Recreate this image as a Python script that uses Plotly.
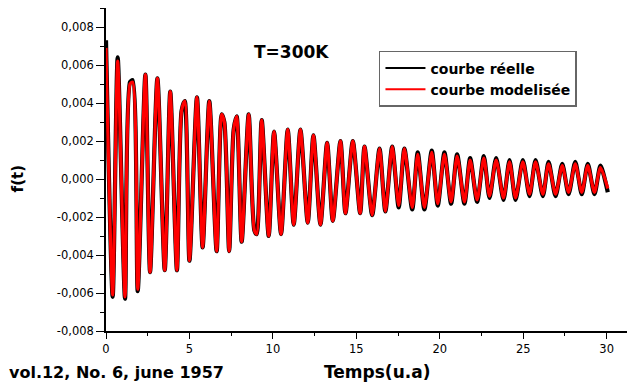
import plotly.graph_objects as go

# Extrema of the oscillation (time in u.a)
t_points = [0.00, 0.40, 0.70, 1.14, 1.44, 1.60, 1.90, 2.36, 2.64, 3.08, 3.52, 3.85, 4.25, 4.53, 4.72,
            5.00, 5.45, 5.79, 6.19, 6.63, 6.93, 7.09, 7.38, 7.65, 7.83, 8.13, 8.55, 8.89, 9.03, 9.33,
            9.75, 10.07, 10.49, 10.89, 11.25, 11.65, 12.09, 12.43, 12.85, 13.25, 13.59, 14.05, 14.35,
            14.79, 15.23, 15.49, 15.95, 16.39, 16.74, 17.15, 17.54, 17.88, 18.35, 18.68, 19.08, 19.52,
            19.88, 20.28, 20.68, 21.04, 21.48, 21.82, 22.24, 22.64, 22.98, 23.38, 23.82, 24.18, 24.54,
            24.98, 25.38, 25.74, 26.18, 26.52, 26.94, 27.34, 27.72, 28.12, 28.51, 28.87, 29.27, 29.63,
            30.07]

f_modelisee = [0.0069, -0.0061, 0.0062, -0.0062, 0.0050, 0.0051, -0.0058, 0.0055, -0.0049, 0.0053,
               -0.0048, 0.0046, -0.0048, 0.0036, 0.0041, -0.0043, 0.0043, -0.0036, 0.0041, -0.0038,
               0.0034, 0.0030, -0.0038, 0.0026, 0.0033, -0.0033, 0.0034, -0.0027, -0.0029, 0.0031,
               -0.0030, 0.0025, -0.0029, 0.0026, -0.0024, 0.0026, -0.0023, 0.0023, -0.0024, 0.0019,
               -0.0022, 0.0020, -0.0018, 0.0020, -0.0018, 0.0017, -0.0019, 0.0016, -0.0017, 0.0017,
               -0.0014, 0.0016, -0.0015, 0.0013, -0.0015, 0.0014, -0.0013, 0.0013, -0.0012, 0.0012,
               -0.0012, 0.0010, -0.0011, 0.0011, -0.0009, 0.0010, -0.0010, 0.0009, -0.0010, 0.0009,
               -0.0008, 0.0009, -0.0008, 0.0008, -0.0008, 0.0007, -0.0007, 0.0008, -0.0007, 0.0007,
               -0.0007, 0.0006, -0.0005]

f_reelle = [0.0073, -0.0062, 0.0064, -0.0063, 0.0051, 0.0052, -0.0059, 0.0055, -0.0049, 0.0053,
            -0.0048, 0.0046, -0.0048, 0.0036, 0.0041, -0.0043, 0.0043, -0.0036, 0.0041, -0.0038,
            0.0034, 0.0030, -0.0038, 0.0026, 0.0033, -0.0033, 0.0034, -0.0027, -0.0029, 0.0031,
            -0.0030, 0.0025, -0.0029, 0.0026, -0.0024, 0.0026, -0.0023, 0.0023, -0.0024, 0.0019,
            -0.0022, 0.0020, -0.0018, 0.0020, -0.0018, 0.0017, -0.0019, 0.0016, -0.0017, 0.0017,
            -0.0015, 0.0016, -0.0016, 0.0014, -0.0016, 0.0015, -0.0014, 0.0014, -0.0013, 0.0013,
            -0.0013, 0.0011, -0.0012, 0.0012, -0.0010, 0.0011, -0.0011, 0.0010, -0.0011, 0.0010,
            -0.0009, 0.0010, -0.0009, 0.0009, -0.0009, 0.0008, -0.0008, 0.0009, -0.0008, 0.0008,
            -0.0008, 0.0007, -0.0007]

x_tick_vals = [0, 5, 10, 15, 20, 25, 30]
x_tick_labels = ["0", "5", "10", "15", "20", "25", "30"]
y_tick_vals = [-0.008, -0.006, -0.004, -0.002, 0.0, 0.002, 0.004, 0.006, 0.008]
y_tick_labels = ["-0,008", "-0,006", "-0,004", "-0,002", "0,000", "0,002", "0,004", "0,006", "0,008"]

series_names = ["courbe réelle", "courbe modelisée"]
series_colors = ["black", "#ff0000"]

fig = go.Figure()
fig.add_trace(go.Scatter(x=t_points, y=f_reelle, mode="lines", name=series_names[0], showlegend=False,
                         legendgroup="a",
                         line=dict(color=series_colors[0], width=4.2, shape="spline", smoothing=0.7)))
fig.add_trace(go.Scatter(x=t_points, y=f_modelisee, mode="lines", name=series_names[1], showlegend=False,
                         legendgroup="b",
                         line=dict(color=series_colors[1], width=3.2, shape="spline", smoothing=0.7)))
# legend entries with thin sample lines
for name, col, grp in zip(series_names, series_colors, ["a", "b"]):
    fig.add_trace(go.Scatter(x=[None], y=[None], mode="lines", name=name, legendgroup=grp,
                             line=dict(color=col, width=2)))

axis_font = dict(family="DejaVu Sans", size=11.5, color="black")
# the page body adds an 8px offset, margins compensate for it
fig.update_layout(
    width=635, height=382,
    margin=dict(l=98, r=8, t=0, b=59, autoexpand=False),
    paper_bgcolor="white", plot_bgcolor="white",
    showlegend=True,
    legend=dict(x=0.516, y=0.867, xanchor="left", yanchor="top",
                bgcolor="white", bordercolor="#666666", borderwidth=1.5,
                font=dict(family="DejaVu Sans", size=14, color="black", weight="bold"),
                itemwidth=40, tracegroupgap=0),
    xaxis=dict(range=[0, 31.7], showgrid=False, zeroline=False, automargin=False,
               showline=True, linecolor="black", linewidth=1.5,
               ticks="outside", ticklen=6, tickwidth=1.2, tickcolor="black",
               tickvals=x_tick_vals, ticktext=x_tick_labels, tickfont=axis_font,
               minor=dict(ticks="outside", ticklen=3, tickwidth=1, tickcolor="black", dtick=2.5, tick0=0)),
    yaxis=dict(range=[-0.008, 0.009], showgrid=False, zeroline=False, automargin=False,
               showline=True, linecolor="black", linewidth=1.5,
               ticks="outside", ticklen=8, tickwidth=1.2, tickcolor="black",
               tickvals=y_tick_vals, ticktext=y_tick_labels, tickfont=axis_font,
               minor=dict(ticks="outside", ticklen=4, tickwidth=1, tickcolor="black", dtick=0.001, tick0=0)),
)

fig.add_annotation(text="T=300K", xref="paper", yref="paper", x=0.35, y=0.864,
                   showarrow=False, xanchor="center", yanchor="middle",
                   font=dict(family="DejaVu Sans", size=17, color="black", weight="bold"))
fig.add_annotation(text="f(t)", xref="paper", yref="paper", x=-0.166, y=0.47,
                   showarrow=False, xanchor="center", yanchor="middle", textangle=-90,
                   font=dict(family="DejaVu Sans", size=15, color="black", weight="bold"))
fig.add_annotation(text="Temps(u.a)", xref="paper", yref="paper", x=0.512, y=-0.16,
                   showarrow=False, xanchor="center", yanchor="bottom", borderpad=0,
                   font=dict(family="DejaVu Sans", size=17, color="black", weight="bold"))
fig.add_annotation(text="vol.12, No. 6, june 1957", xref="paper", yref="paper", x=-0.185, y=-0.16,
                   showarrow=False, xanchor="left", yanchor="bottom", borderpad=0,
                   font=dict(family="DejaVu Sans", size=16, color="black", weight="bold"))

fig.write_html("out.html")
